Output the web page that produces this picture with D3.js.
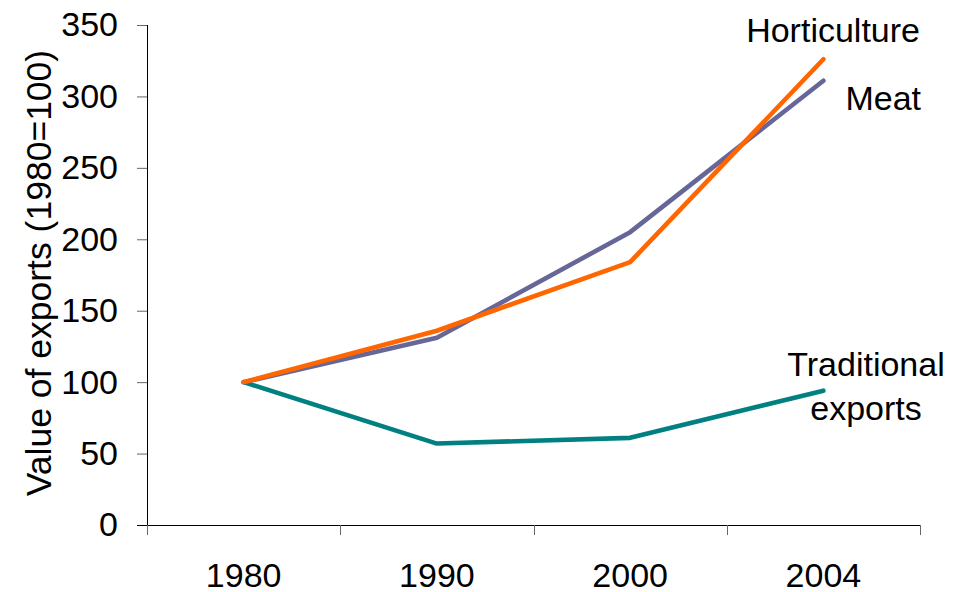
<!DOCTYPE html>
<html>
<head>
<meta charset="utf-8">
<script src="https://cdn.jsdelivr.net/npm/d3@7"></script>
<style>
  body { margin: 0; background: #fff; }
  svg { display: block; font-family: "Liberation Sans", Arial, sans-serif; }
  .lbl { font-size: 34px; fill: #000; }
</style>
</head>
<body>
<div id="chart"></div>
<script>
// data
const years = ['1980', '1990', '2000', '2004']
const meat = [100, 131, 205, 311]
const horticulture = [100, 136, 184, 326]
const traditional = [100, 57, 61, 94]
const yTicks = [0, 50, 100, 150, 200, 250, 300, 350]

const w = 967, h = 592
const pL = 147, pR = 920, pT = 25, pB = 525

const svg = d3.select('#chart').append('svg').attr('width', w).attr('height', h)

const xScale = d3.scaleBand().domain(years).range([pL, pR]).padding(0)
const yScale = d3.scaleLinear().domain([0, 350]).range([pB, pT])
const xc = (d) => xScale(d) + xScale.bandwidth() / 2

// y axis
const yA = d3.axisLeft(yScale).tickValues(yTicks).tickSize(10).tickPadding(19)
const gy = svg.append('g').attr('transform', 'translate(' + pL + ',0)').call(yA)
gy.select('.domain').attr('stroke', '#000').attr('d', 'M0.5,' + pT + 'V' + (pB + 10))
gy.selectAll('.tick line').attr('stroke', '#666')
gy.selectAll('text').attr('class', 'lbl').attr('font-size', null).attr('font-family', null)

// x axis: labels at centres, tick marks on the category borders
const xA = d3.axisBottom(xScale).tickSize(0).tickPadding(38)
const gx = svg.append('g').attr('transform', 'translate(0,' + pB + ')').call(xA)
gx.select('.domain').attr('stroke', '#000').attr('d', 'M' + (pL - 10) + ',0.5H' + pR)
gx.selectAll('text').attr('class', 'lbl').attr('font-size', null).attr('font-family', null)

const borders = years.map((d) => xScale(d) + xScale.bandwidth()).concat([xScale(years[0])])
gx.selectAll('.border')
  .data(borders)
  .enter()
  .append('line')
  .attr('x1', (d) => Math.round(d) + 0.5)
  .attr('x2', (d) => Math.round(d) + 0.5)
  .attr('y1', 0)
  .attr('y2', 10)
  .attr('stroke', '#666')

// y title
svg.append('text')
   .attr('class', 'lbl')
   .style('font-size', '35.5px')
   .attr('transform', 'translate(51,273) rotate(-90)')
   .attr('text-anchor', 'middle')
   .text('Value of exports (1980=100)')

// lines
const series = [
  { name: 'traditional', values: traditional, color: '#008080' },
  { name: 'meat', values: meat, color: '#666699' },
  { name: 'horticulture', values: horticulture, color: '#FF6600' }
]

const line = d3.line().x((d, i) => xc(years[i])).y((d) => yScale(d))

svg.selectAll('.series')
   .data(series)
   .enter()
   .append('path')
   .attr('class', 'series')
   .attr('d', (d) => line(d.values))
   .attr('fill', 'none')
   .attr('stroke', (d) => d.color)
   .attr('stroke-width', 4.6)
   .attr('stroke-linecap', 'round')
   .attr('stroke-linejoin', 'round')

// series labels
svg.append('text').attr('class', 'lbl').attr('x', 920).attr('y', 42).attr('text-anchor', 'end').text('Horticulture')
svg.append('text').attr('class', 'lbl').attr('x', 921).attr('y', 110).attr('text-anchor', 'end').text('Meat')
svg.append('text').attr('class', 'lbl').attr('x', 866).attr('y', 376).attr('text-anchor', 'middle').text('Traditional')
svg.append('text').attr('class', 'lbl').attr('x', 866).attr('y', 420).attr('text-anchor', 'middle').text('exports')
</script>
</body>
</html>
